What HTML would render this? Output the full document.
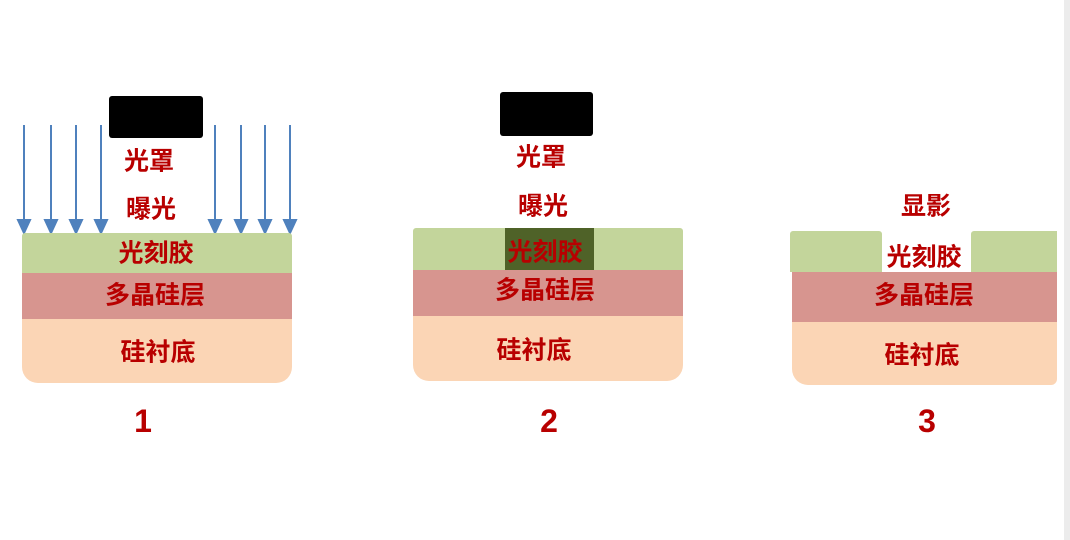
<!DOCTYPE html>
<html><head><meta charset="utf-8"><style>
body{margin:0;width:1070px;height:540px;background:#fff;position:relative;overflow:hidden;font-family:"Liberation Sans","Noto Sans CJK SC",sans-serif;}
.a{position:absolute;}
.t{position:absolute;color:#b80000;font-weight:bold;font-size:25px;white-space:nowrap;transform:translate(-50%,-50%);line-height:1;}
.n{font-size:32px;font-weight:bold;}
.mask{position:absolute;background:#000;border-radius:3px;}
.g{background:#c3d59b;}
.r{background:#d7958f;}
.p{background:#fbd5b5;border-radius:0 0 16px 16px;}
</style></head><body>
<svg class="a" style="left:0;top:0" width="1070" height="540">
<g stroke="#4f81bd" stroke-width="2" fill="#4f81bd">
<line x1="24" y1="125" x2="24" y2="222"/><polygon points="18,220 30,220 24,233"/>
<line x1="51" y1="125" x2="51" y2="222"/><polygon points="45,220 57,220 51,233"/>
<line x1="76" y1="125" x2="76" y2="222"/><polygon points="70,220 82,220 76,233"/>
<line x1="101" y1="125" x2="101" y2="222"/><polygon points="95,220 107,220 101,233"/>
<line x1="215" y1="125" x2="215" y2="222"/><polygon points="209,220 221,220 215,233"/>
<line x1="241" y1="125" x2="241" y2="222"/><polygon points="235,220 247,220 241,233"/>
<line x1="265" y1="125" x2="265" y2="222"/><polygon points="259,220 271,220 265,233"/>
<line x1="290" y1="125" x2="290" y2="222"/><polygon points="284,220 296,220 290,233"/>
</g>
<rect x="1064" y="0" width="6" height="540" fill="#ececec"/>
</svg>
<!-- panel 1 -->
<div class="mask" style="left:109px;top:96px;width:94px;height:42px"></div>
<div class="a g" style="left:22px;top:233px;width:270px;height:40px;border-radius:3px 3px 0 0"></div>
<div class="a r" style="left:22px;top:273px;width:270px;height:46px"></div>
<div class="a p" style="left:22px;top:319px;width:270px;height:64px"></div>
<div class="t" style="left:149px;top:162px">光罩</div>
<div class="t" style="left:151px;top:210px">曝光</div>
<div class="t" style="left:156px;top:254px">光刻胶</div>
<div class="t" style="left:155px;top:296px">多晶硅层</div>
<div class="t" style="left:158px;top:353px">硅衬底</div>
<div class="t n" style="left:143px;top:421px">1</div>
<!-- panel 2 -->
<div class="mask" style="left:500px;top:92px;width:93px;height:44px"></div>
<div class="a g" style="left:413px;top:228px;width:270px;height:42px;border-radius:3px 3px 0 0"></div>
<div class="a" style="left:505px;top:228px;width:89px;height:42px;background:#4f6228"></div>
<div class="a r" style="left:413px;top:270px;width:270px;height:46px"></div>
<div class="a p" style="left:413px;top:316px;width:270px;height:65px"></div>
<div class="t" style="left:541px;top:158px">光罩</div>
<div class="t" style="left:543px;top:207px">曝光</div>
<div class="t" style="left:545px;top:253px">光刻胶</div>
<div class="t" style="left:545px;top:291px">多晶硅层</div>
<div class="t" style="left:534px;top:351px">硅衬底</div>
<div class="t n" style="left:549px;top:421px">2</div>
<!-- panel 3 -->
<div class="a g" style="left:790px;top:231px;width:92px;height:41px;border-radius:3px 3px 0 0"></div>
<div class="a g" style="left:971px;top:231px;width:86px;height:41px;border-radius:3px 0 0 0"></div>
<div class="a r" style="left:792px;top:272px;width:265px;height:50px"></div>
<div class="a p" style="left:792px;top:322px;width:265px;height:63px;border-radius:0 0 6px 16px"></div>
<div class="t" style="left:926px;top:207px">显影</div>
<div class="t" style="left:924px;top:258px">光刻胶</div>
<div class="t" style="left:924px;top:296px">多晶硅层</div>
<div class="t" style="left:922px;top:356px">硅衬底</div>
<div class="t n" style="left:927px;top:421px">3</div>
</body></html>
